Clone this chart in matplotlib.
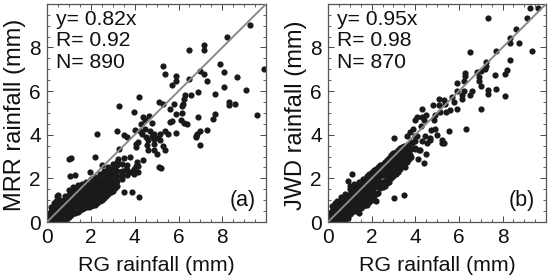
import matplotlib
matplotlib.use("Agg")
import matplotlib.pyplot as plt
from matplotlib.ticker import MultipleLocator

plt.rcParams['font.family'] = ['Liberation Sans', 'DejaVu Sans']

a_sparse_x = [9.27,8.19,6.48,7.18,7.18,7.87,5.28,5.39,5.87,5.87,5.69,6.47,6.96,7.17,7.29,8.08,8.68,9.88,8.08,9.09,6.88,6.59,6.29,6.27,7.67,4.19,5.10,5.28,5.78,6.19,6.18,5.59,3.29,3.99,8.28,8.28,8.58,9.57,7.67,7.56,6.88,5.87,6.18,4.40,4.67,4.47,4.29,4.78,5.62,5.69,6.10,6.26,6.38,2.28,3.20,3.49,3.64,4.02,4.25,4.32,4.70,4.86,5.16,5.39,5.51,5.87,6.83,6.99,7.29,6.79,6.99,6.79,4.06,4.06,4.55,4.89,4.63,5.00,5.39,5.16,5.31,4.86,4.86,1.02,1.10,2.19,3.26,3.79,3.50,4.40,4.12,4.05,5.13,5.20,2.50,1.05,1.28,1.98,0.44,0.52,3.49,3.90,4.18,3.60,3.85,3.30,4.50,4.62,4.45,4.80,4.15,5.05]
a_sparse_y = [9.01,8.48,7.90,8.11,7.88,7.23,7.17,6.79,6.70,6.48,6.30,6.56,6.94,6.79,6.47,6.86,6.65,7.02,6.19,6.07,5.95,5.84,5.81,5.65,5.87,5.72,5.48,5.40,5.40,5.42,5.33,5.20,5.31,5.04,5.49,5.34,5.39,4.92,4.95,4.70,4.79,4.96,4.99,4.81,4.86,4.69,4.47,4.54,4.58,4.63,4.66,4.55,4.47,4.05,4.16,4.00,3.90,4.20,4.17,4.05,4.16,4.05,4.05,4.17,4.02,4.09,4.05,4.16,4.23,3.93,3.53,3.90,3.59,3.44,3.51,3.59,3.28,3.13,3.28,3.74,3.47,3.82,3.31,2.90,2.93,3.00,2.90,3.00,2.95,2.82,2.75,2.55,2.52,2.47,2.60,2.10,2.14,2.29,1.19,1.22,1.39,1.39,1.15,2.45,2.30,3.35,3.90,3.75,4.25,3.95,3.65,3.85]
a_dense = {
    0.05:[0.02,0.2,0.38], 0.2:[0.02,0.25,0.5,0.7], 0.4:[0.02,0.25,0.5,0.75,0.95],
    0.6:[0.03,0.28,0.55,0.8,1.0], 0.8:[0.06,0.3,0.55,0.8,1.05,1.18],
    1.0:[0.25,0.5,0.75,1.0,1.25,1.45], 1.2:[0.4,0.65,0.9,1.15,1.4,1.6],
    1.4:[0.45,0.7,0.95,1.2,1.45,1.68], 1.6:[0.6,0.85,1.1,1.35,1.6,1.75],
    1.8:[0.68,0.95,1.2,1.45,1.7,1.85], 2.0:[0.72,1.0,1.25,1.5,1.75,1.95],
    2.2:[0.8,1.05,1.3,1.55,1.8,2.05], 2.4:[0.95,1.2,1.45,1.7,1.95,2.2],
    2.6:[1.1,1.35,1.6,1.85,2.1,2.35], 2.8:[1.3,1.55,1.8,2.05,2.3,2.52],
    3.0:[1.42,1.7,1.95,2.2,2.45,2.65], 3.2:[1.65,1.9,2.1,2.35,2.6,2.75],
    3.4:[1.95,2.15,2.35,2.65], 3.65:[2.15,2.4,2.6], 3.95:[2.2,2.45], 4.15:[2.3,2.55],
    0.3:[0.12,0.38,0.62,0.85], 0.5:[0.12,0.38,0.62,0.88], 0.7:[0.15,0.4,0.68,0.92],
    0.9:[0.18,0.42,0.68,0.92,1.12], 1.1:[0.32,0.58,0.82,1.08,1.32], 1.3:[0.42,0.78,1.02,1.28,1.52],
    1.5:[0.55,0.82,1.08,1.32,1.55], 1.7:[0.65,0.85,1.08,1.32,1.58], 1.9:[0.7,0.88,1.12,1.38,1.62],
    2.1:[0.78,0.92,1.18,1.42,1.68,1.92], 2.3:[0.88,1.12,1.38,1.62,1.88], 2.5:[1.02,1.28,1.52,1.78,2.02],
    2.7:[1.2,1.45,1.7,1.95,2.2], 2.9:[1.38,1.62,1.88,2.12,2.38], 3.1:[1.55,1.82,2.05,2.3,2.55],
}

b_sparse_x = [9.24,9.62,9.13,7.32,8.62,8.32,8.32,8.73,9.33,6.53,7.72,8.32,7.22,7.22,8.21,8.13,7.63,6.83,7.03,7.19,6.30,6.30,6.91,6.94,6.22,5.92,7.03,7.32,7.32,7.72,8.13,6.60,6.53,6.22,5.92,6.15,6.12,5.69,5.76,7.02,5.92,5.10,5.30,5.38,4.80,5.10,4.31,5.61,5.40,5.15,4.92,4.50,4.31,4.08,4.00,4.38,4.84,4.24,3.88,3.78,4.92,5.53,6.33,3.01,3.62,4.08,4.69,5.23,3.47,3.01,4.42,4.13,4.51,4.16,4.69,5.23,5.30,1.10,0.90,1.02,3.55,3.78,4.30,4.45,4.20,4.55,5.00,4.70,4.00,3.85]
b_sparse_y = [9.79,9.82,9.36,9.35,8.84,8.45,8.19,8.20,7.85,7.79,7.85,7.44,7.31,7.15,6.97,6.76,6.74,6.89,6.94,7.02,6.83,6.71,6.64,6.48,6.48,6.36,6.21,6.07,5.87,6.10,5.78,6.00,5.80,6.00,6.00,5.80,5.62,5.72,5.49,5.20,5.19,5.65,5.57,5.42,5.34,5.34,5.20,5.11,5.04,5.04,4.89,4.89,4.81,4.81,4.66,4.66,4.66,4.38,4.28,4.12,4.28,4.15,4.26,3.87,3.93,3.95,3.85,3.74,1.25,1.10,2.70,2.90,3.13,3.28,3.74,3.63,3.60,2.21,1.88,1.65,2.52,3.05,3.70,3.95,3.30,3.60,4.00,4.20,3.40,3.60]
b_dense = {
    0.05:[0.02,0.2,0.4], 0.2:[0.02,0.25,0.5,0.72], 0.4:[0.02,0.25,0.5,0.75,0.95],
    0.6:[0.02,0.25,0.5,0.75,1.0,1.15], 0.8:[0.05,0.3,0.55,0.8,1.05,1.3],
    1.0:[0.35,0.6,0.85,1.1,1.3,1.5], 1.2:[0.55,0.8,1.05,1.3,1.55,1.75],
    1.4:[0.4,0.65,0.9,1.15,1.4,1.65,1.82], 1.6:[0.75,1.0,1.25,1.5,1.75,1.95],
    1.8:[0.8,1.05,1.3,1.55,1.8,2.1], 2.0:[1.0,1.25,1.5,1.75,2.0,2.3],
    2.2:[0.98,1.3,1.6,1.85,2.15,2.45], 2.4:[1.55,1.8,2.1,2.35,2.6],
    2.6:[1.65,1.9,2.2,2.5,2.75], 2.8:[1.85,2.15,2.45,2.72,2.95],
    3.0:[2.1,2.35,2.65,2.9,3.15], 3.2:[2.3,2.55,2.85,3.1,3.3],
    3.4:[2.55,2.8,3.05,3.3,3.45], 3.6:[2.75,3.0,3.3,3.55], 3.8:[3.0,3.35,3.65],
    4.0:[3.35,3.7,3.95],
    0.3:[0.12,0.38,0.62,0.85], 0.5:[0.12,0.38,0.62,0.88], 0.7:[0.15,0.4,0.65,0.9,1.1],
    0.9:[0.2,0.45,0.7,0.95,1.18], 1.1:[0.45,0.72,0.98,1.22,1.45], 1.3:[0.5,0.75,1.0,1.25,1.5,1.7],
    1.5:[0.62,0.88,1.12,1.38,1.62,1.85], 1.7:[0.78,1.02,1.28,1.52,1.78,1.98], 1.9:[0.9,1.15,1.42,1.68,1.95,2.2],
    2.1:[1.05,1.35,1.62,1.88,2.12,2.38], 2.3:[1.35,1.65,1.95,2.22,2.5], 2.5:[1.6,1.85,2.15,2.42,2.68],
    2.7:[1.78,2.05,2.32,2.62,2.85], 2.9:[2.0,2.25,2.55,2.82,3.05], 3.1:[2.2,2.48,2.78,3.02,3.22],
    3.3:[2.42,2.68,2.95,3.2,3.38], 3.5:[2.65,2.92,3.18,3.48], 3.7:[2.9,3.2,3.55],
}

panels = [
    dict(sx=a_sparse_x, sy=a_sparse_y, dense=a_dense, ylabel="MRR rainfall (mm)",
         stats=["y= 0.82x", "R= 0.92", "N= 890"], tag="(a)", rect=(47, 266)),
    dict(sx=b_sparse_x, sy=b_sparse_y, dense=b_dense, ylabel="JWD rainfall (mm)",
         stats=["y= 0.95x", "R= 0.98", "N= 870"], tag="(b)", rect=(328, 546)),
]
limit = [0, 9.99]
W, H = 550, 280
fig = plt.figure(figsize=(W/100, H/100), dpi=100)
DARK = "#1a1a1a"
for p in panels:
    l, r = p["rect"]
    ax = fig.add_axes([l/W, 1-222/H, (r-l)/W, 218/H])
    xs = list(p["sx"]); ys = list(p["sy"])
    for x, col in p["dense"].items():
        xs += [x]*len(col); ys += col
    ax.scatter(xs, ys, s=20, c=DARK, linewidths=0, zorder=2)
    ax.plot(limit, limit, color="#8a8a8a", lw=1.4, zorder=3)
    ax.set_xlim(limit); ax.set_ylim(limit)
    for axis in (ax.xaxis, ax.yaxis):
        axis.set_major_locator(MultipleLocator(2))
        axis.set_minor_locator(MultipleLocator(0.5))
    ax.tick_params(which="major", direction="in", length=4, width=0.7, top=True, right=True,
                   labelsize=15, pad=4.5, color="#444444", labelcolor="#111111")
    ax.tick_params(which="minor", direction="in", length=2, width=0.6, top=True, right=True, color="#444444")
    for s in ax.spines.values():
        s.set_linewidth(0.9); s.set_color("#555555")
    ax.set_xlabel("RG rainfall (mm)", fontsize=15.4, color="#111111", labelpad=6)
    ax.set_ylabel(p["ylabel"], fontsize=17, color="#111111", labelpad=2, y=0.49)
    for line, y in zip(p["stats"], [9.27, 8.3, 7.33]):
        ax.text(0.41, y, line, fontsize=15.2, color="#111111", va="center", ha="left")
    ax.text(9.5, 1.0, p["tag"], fontsize=15.5, color="#111111", va="center", ha="right")
fig.savefig("out.png", dpi=100)
